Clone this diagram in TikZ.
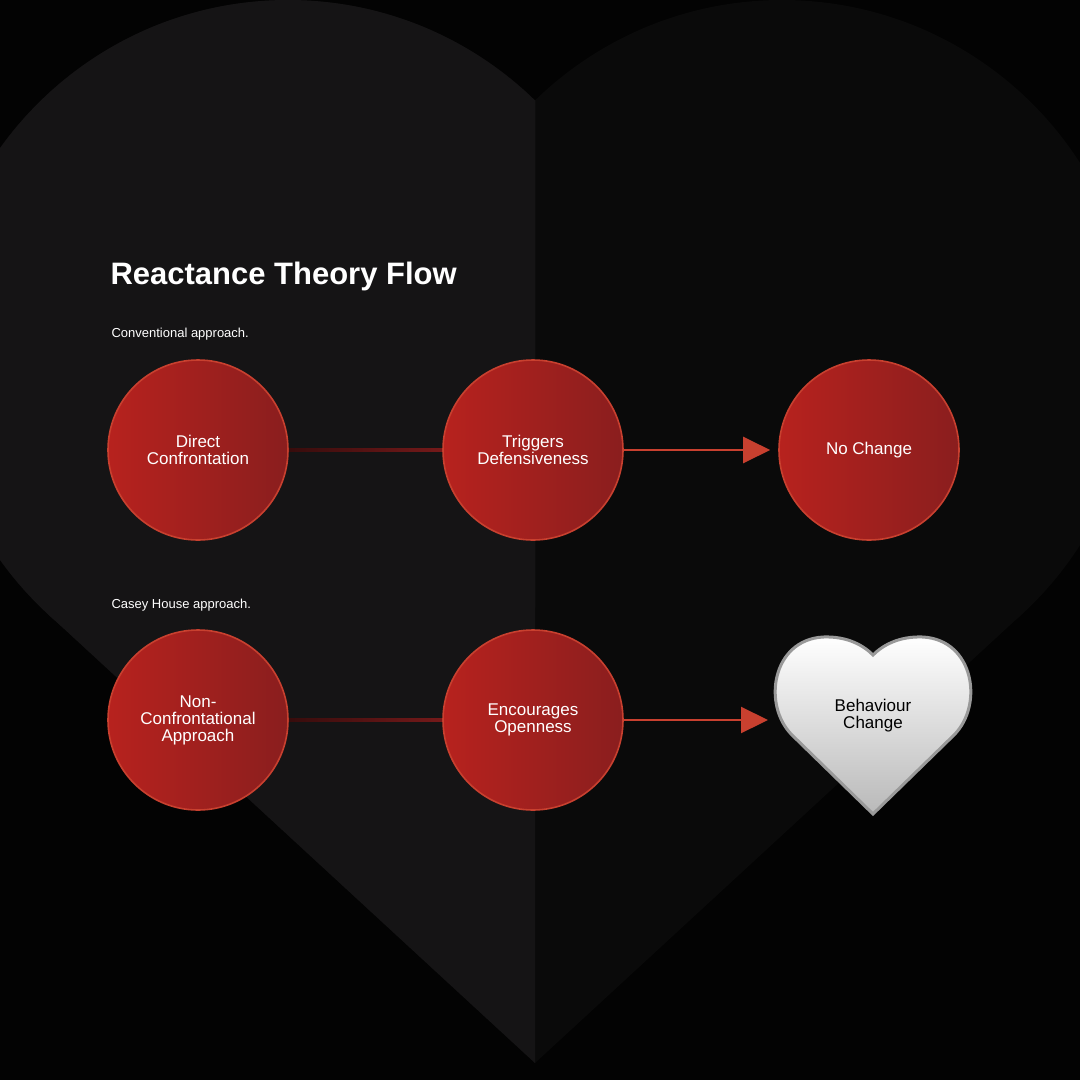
\documentclass[tikz,border=0pt]{standalone}
\usepackage{fontspec}
\setmainfont{Liberation Sans}
\usetikzlibrary{arrows.meta}
\definecolor{bg}{HTML}{030303}
\definecolor{hl}{HTML}{151415}
\definecolor{hr}{HTML}{0A0A0A}
\definecolor{rl}{HTML}{B7221E}
\definecolor{rr}{HTML}{8A1E1E}
\definecolor{rb}{HTML}{C8402F}
\begin{document}
\begin{tikzpicture}[x=1pt,y=-1pt,
  circ/.style={circle,minimum size=180pt,inner sep=0pt,draw=rb,line width=1.6pt,
    left color=rl,right color=rr,text=white,font=\fontsize{17}{17}\selectfont,align=center},
  lbl/.style={text=white,font=\fontsize{13}{13}\selectfont,anchor=west},
  arr/.style={draw=rb,line width=2.2pt,-{Triangle[width=26pt,length=27pt]},shorten >=8pt},
  faint/.style={left color=rr!40!black,right color=rr!85!black}]
\fill[bg] (0,0) rectangle (1080,1080);
\useasboundingbox (0,0) rectangle (1080,1080);
% heart background
\def\heartfill#1{\fill[#1] (48,614) -- (535,1063) -- (1022,614) -- (782,354) -- (535,100) -- (288,354) -- cycle;
  \fill[#1] (288,354) circle (354); \fill[#1] (782,354) circle (354);}
\heartfill{hr}
\begin{scope}
\clip (0,0) rectangle (535,1080);
\heartfill{hl}
\end{scope}
% texts
\node[text=white,font=\bfseries\fontsize{31}{31}\selectfont,anchor=west] (title) at (107,276) {Reactance Theory Flow};
\node[lbl] (s1) at (108,334) {Conventional approach.};
\node[lbl] (s2) at (108,605) {Casey House approach.};
% nodes
\node[circ] (c1) at (198,450) {Direct\\Confrontation};
\node[circ] (c2) at (533,450) {Triggers\\Defensiveness};
\node[circ] (c3) at (869,450) {No Change};
\node[circ] (d1) at (198,720) {Non-\\Confrontational\\Approach};
\node[circ] (d2) at (533,720) {Encourages\\Openness};
\path[draw=gray!80,line width=3pt,top color=white,bottom color=gray!55]
  (873,814) -- (792,735) .. controls (762,705) and (772,640) .. (823,637)
  .. controls (848,636) and (864,646) .. (873,655)
  .. controls (882,646) and (898,636) .. (923,637)
  .. controls (974,640) and (984,705) .. (954,735) -- cycle;
\node[text=black,font=\fontsize{17}{17}\selectfont,align=center] (h) at (873,716) {Behaviour\\Change};
% connectors
\shade[faint] ([yshift=-1.5pt]c1.east) rectangle ([yshift=1.5pt]c2.west);
\shade[faint] ([yshift=-1.5pt]d1.east) rectangle ([yshift=1.5pt]d2.west);
\draw[arr] (c2) -- (c3);
\draw[arr] (d2.east) -- (776,720);
\end{tikzpicture}
\end{document}
